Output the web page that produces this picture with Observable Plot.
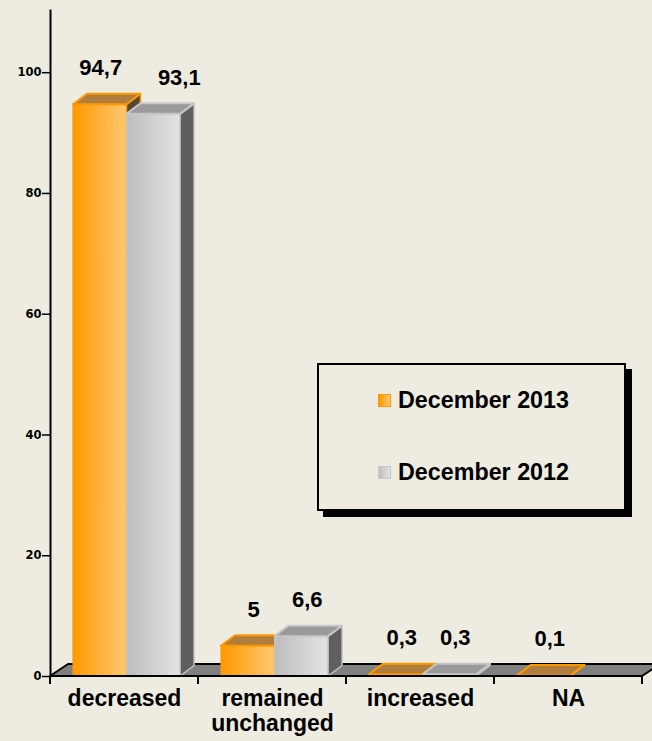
<!DOCTYPE html>
<html><head><meta charset="utf-8">
<script src="https://cdn.jsdelivr.net/npm/d3@7"></script>
<script src="https://cdn.jsdelivr.net/npm/@observablehq/plot@0.6"></script>
<style>
html,body{margin:0;padding:0;background:#EEECE1;}
#chart{position:relative;width:652px;height:741px;}
#legend{position:absolute;left:317px;top:363px;width:305px;height:144px;border:2px solid #000;box-shadow:6px 6px 0 #000;background:#EEECE1;font-family:"Liberation Sans",Arial,sans-serif;font-weight:bold;font-size:23.3px;color:#000;}
.item{position:absolute;left:59px;display:flex;align-items:center;line-height:26px;white-space:nowrap;}
.sw{width:11px;height:11px;border:1px solid;margin-right:7px;}
</style></head><body><div id="chart"></div>
<script>
const categories = ["decreased", "remained unchanged", "increased", "NA"];
const categoryLabels = ["decreased", "remained\nunchanged", "increased", "NA"];
const series = ["December 2013", "December 2012"];
const values2013 = [94.7, 5, 0.3, 0.1];
const values2012 = [93.1, 6.6, 0.3, null];
const yTicks = [0, 20, 40, 60, 80, 100];

const seriesValues = [values2013, values2012];
const rows = [];
categories.forEach((cat, i) => {
  series.forEach((s, j) => {
    const v = seriesValues[j][i];
    if (v != null) rows.push({cat, series: s, j, value: v, label: String(v).replace(".", ",")});
  });
});

// styles
const styleBySeries = [
  {g0: "#FF9900", g1: "#FFC870", top: "#B07D3C", side: "#574834", edge: "#FF9900"},
  {g0: "#BDBDBD", g1: "#E3E3E3", top: "#9A9A9A", side: "#5F5F5F", edge: "#C6C6C6"}
];
const labelNudge = {"decreased|0": -5, "decreased|1": 20};
const depthX = 14, depthY = 10.5;

function bars3d(index, scales, values, dimensions) {
  const x = scales.x, y = scales.y;
  const bw = typeof x.bandwidth === "function" ? x.bandwidth() : x.bandwidth;
  const g = d3.create("svg:g");
  const defs = g.append("defs");
  styleBySeries.forEach((st, j) => {
    const lg = defs.append("linearGradient").attr("id", "grad" + j).attr("x1", 0).attr("x2", 1).attr("y1", 0).attr("y2", 0);
    lg.append("stop").attr("offset", 0).attr("stop-color", st.g0);
    lg.append("stop").attr("offset", 1).attr("stop-color", st.g1);
  });
  const y0 = y(0);
  const xa = dimensions.marginLeft, xb = dimensions.width - dimensions.marginRight;
  // floor
  g.append("path")
    .attr("d", `M${xa},${y0}L${xa + 18},${y0 - 12}L${xb + 18},${y0 - 12}L${xb},${y0}Z`)
    .attr("fill", "#808080").attr("stroke", "#000").attr("stroke-width", 2).attr("stroke-linejoin", "round");
  // bars
  const off = bw * 0.155, w = bw * 0.362;
  for (const i of index) {
    const d = rows[i];
    const st = styleBySeries[d.j];
    const xl = x(d.cat) + off + d.j * w;
    const yt = y(d.value);
    const xr = xl + w;
    g.append("rect").attr("x", xl).attr("y", yt).attr("width", w).attr("height", y0 - yt)
      .attr("fill", `url(#grad${d.j})`).attr("stroke", st.edge).attr("stroke-width", 1);
    g.append("path")
      .attr("d", `M${xr},${yt}L${xr + depthX},${yt - depthY}L${xr + depthX},${y0 - depthY}L${xr},${y0}Z`)
      .attr("fill", st.side).attr("stroke", st.edge).attr("stroke-width", 1.5).attr("stroke-linejoin", "round");
    g.append("path")
      .attr("d", `M${xl},${yt}L${xr},${yt}L${xr + depthX},${yt - depthY}L${xl + depthX},${yt - depthY}Z`)
      .attr("fill", st.top).attr("stroke", st.edge).attr("stroke-width", 2).attr("stroke-linejoin", "round");
  }
  // front floor edge and boundary ticks
  g.append("line").attr("x1", xa).attr("x2", xb).attr("y1", y0).attr("y2", y0).attr("stroke", "#000").attr("stroke-width", 2);
  const bounds = categories.map(c => x(c)).concat([x(categories[categories.length - 1]) + bw]);
  for (const bx of bounds) {
    g.append("line").attr("x1", bx).attr("x2", bx).attr("y1", y0).attr("y2", y0 + 8).attr("stroke", "#000").attr("stroke-width", 2);
  }
  // value labels
  for (const i of index) {
    const d = rows[i];
    const xl = x(d.cat) + off + d.j * w;
    const nudge = labelNudge[d.cat + "|" + d.j] || 0;
    g.append("text")
      .attr("x", xl + w / 2 + 6 + nudge).attr("y", y(d.value) - 29)
      .attr("text-anchor", "middle")
      .attr("font-family", "Liberation Sans, Arial, sans-serif").attr("font-weight", "bold").attr("font-size", 22)
      .attr("fill", "#000").text(d.label);
  }
  return g.node();
}

const plot = Plot.plot({
  width: 652, height: 741,
  marginLeft: 50, marginRight: 10, marginTop: 10, marginBottom: 65,
  style: {background: "transparent", color: "#000", fontFamily: "DejaVu Sans", overflow: "visible"},
  x: {domain: categories, padding: 0, label: null},
  y: {domain: [0, 110.3], label: null},
  marks: [
    Plot.barY(rows, {x: "cat", y: "value", render: bars3d}),
    Plot.frame({anchor: "left", stroke: "#000", strokeWidth: 2}),
    Plot.axisY({ticks: yTicks, tickSize: 8, tickPadding: 1, fontSize: 11.5, fontWeight: "bold", strokeWidth: 1.5, label: null}),
    Plot.axisX({tickSize: 0, tickPadding: 12, fontSize: 23, fontWeight: "bold", fontFamily: "Liberation Sans", lineHeight: 1.08,
      tickFormat: d => categoryLabels[categories.indexOf(d)], label: null})
  ]
});
const chart = document.getElementById("chart");
chart.appendChild(plot);

const legend = document.createElement("div");
legend.id = "legend";
series.forEach((s, j) => {
  const st = styleBySeries[j];
  const item = document.createElement("div");
  item.className = "item";
  item.style.top = (j === 0 ? 22 : 94) + "px";
  const sw = document.createElement("span");
  sw.className = "sw";
  sw.style.background = `linear-gradient(to right, ${st.g0}, ${st.g1})`;
  sw.style.borderColor = st.edge;
  item.appendChild(sw);
  item.appendChild(document.createTextNode(s));
  legend.appendChild(item);
});
chart.appendChild(legend);
</script>
</body></html>
